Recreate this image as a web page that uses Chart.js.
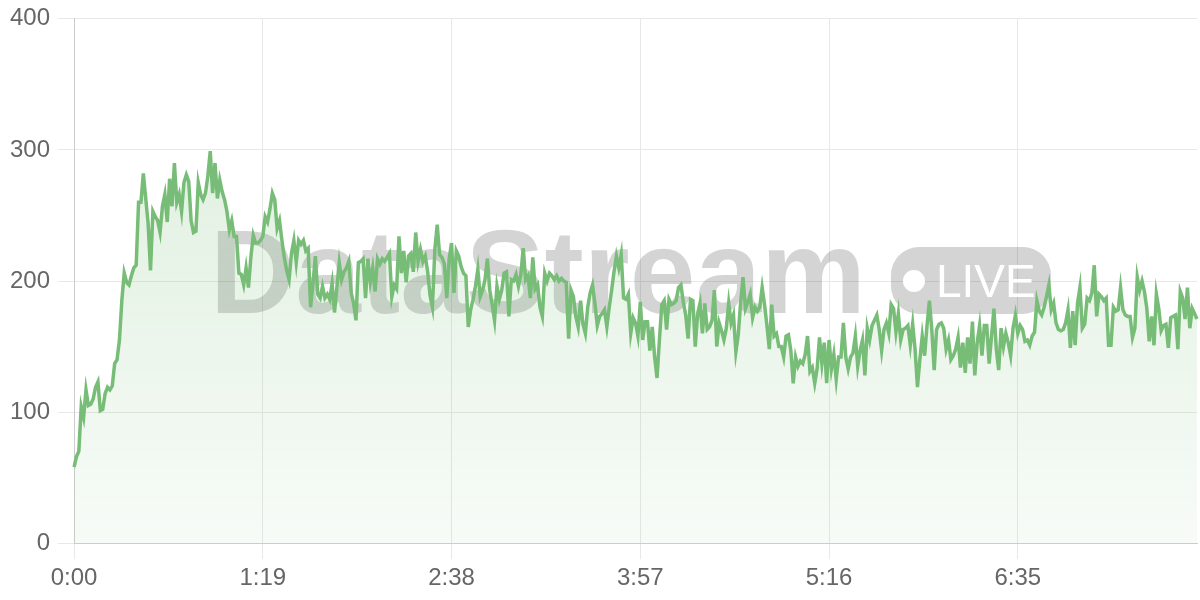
<!DOCTYPE html>
<html>
<head>
<meta charset="utf-8">
<title>DataStream LIVE</title>
<script src="https://cdn.jsdelivr.net/npm/chart.js@4.4.1/dist/chart.umd.min.js"></script>
<style>
html, body { margin: 0; padding: 0; background: #fff; }
#wrap { width: 1200px; height: 600px; }
</style>
</head>
<body>
<div id="wrap"><canvas id="streamChart"></canvas></div>
<script>
// one reading per second
const rampUp = [58,66,70,104,96,117,105,106,110,119,123,101,102,114,119,117,120,137,140,155,
  185,206,199,197,204,210,212,260,260,282,263,244,208,253,249,246,237,257,266,245,
  278,257,290,260,266,253,275,281,276,246,237,238,275,266,262,267,280,299,267,290,
  263,277,268,262,253,239,246,234,234,206,205,197,210,195,218,235,229,229,231,234];
const settle = [249,245,255,267,262,240,246,231,218,208,201,221,231,214,231,228,231,223,225,180,
  198,219,190,187,196,187,190,186,198,176,195,214,201];
const plateau = [207,210,215,191,183,170,214,215,217,187,217,199,210,192,217,213,217,215,218,221,
  188,197,194,234,206,223,199,219,221,207,237,215,224,215,219,207,189,180,224,243,
  220,218,213,187,217,229,191,223,219,211,206,204,165,178,186,196,209,188,193,201,
  217,193,182,170,196,186,193,206,207,173,201,200,205,196,205,225,201,204,187,218,
  194,197,180,173,206,200,206,204,201,204,200,202,200,199,156,193,188,173,165,185,
  167,160,180,191,197,183,166,173,175,178,165,180,193,207,219];
const dip = [210,220,187,186,190,160,172,168,158,184,155,169,169,147,165,142,126,155,182,185,
  163,186,182,183,185,195,197,184,174,156,186,185,150,175,183,160,183,163,165,170,
  193,150,168,162,155,164,183,168,174,146,159,184,203,179,184,190,172,180,177,180,
  195,182,166,148,182,158,160,150,150,142,158,159,147,122,142,135,139,137,144,158,
  131,134,122,133,157,137,153,122,155,133,144,125,142,142,168,142,133,142,145,158,
  135,147,155,128,164,155,166,170,174,163,147,163,168,160,182];
const recovery = [179,161,175,155,163,164,166,151,167,148,119,140,158,143,166,185,163,132,163,167,
  168,164,148,155,140,143,148,157,134,153,130,157,137,169,128,153,166,143,166,166,
  137,158,179,148,132,164,150,160,153,143,164,174,160,166,163,154,155,151,158,161,
  185,177,174,180,188,197,178,183,168,163,162,163,168,178,149,177,151,183,195,164,
  167,187,185,191,212,173,190,188,185,187,151,151,180,177,178,195,178,174,173,173,
  157,164,203,193,200,192,179,154,173,151,190,179,162,166,167,149,172,173,174,148,
  192,187,171,195,164,179,175,171];

const streamValues = [...rampUp, ...settle, ...plateau, ...dip, ...recovery];
const xTickEvery = 79;          // a label every 1:19
const yTicks = [0, 100, 200, 300, 400];

function fmtTime(sec) {
  const m = Math.floor(sec / 60);
  const s = sec % 60;
  return m + ':' + (s < 10 ? '0' : '') + s;
}
const timeLabels = streamValues.map((v, i) => fmtTime(i));

const lineGreen = '#77bd77';
const fontFamily = '"Liberation Sans", Arial, sans-serif';

// big grey "DataStream  (o LIVE)" mark behind the line
const watermark = {
  id: 'watermark',
  beforeDatasetsDraw(chart) {
    const { ctx, chartArea } = chart;
    const cx = (chartArea.left + chartArea.right) / 2 - 5;
    const cy = (chartArea.top + chartArea.bottom) / 2;
    ctx.save();
    ctx.font = 'bold 118px ' + fontFamily;
    const tw = ctx.measureText('DataStream').width;
    const pillW = 160, pillH = 67, gap = 25;
    const left = cx - (tw + gap + pillW) / 2;
    ctx.fillStyle = 'rgba(0,0,0,0.17)';
    ctx.textBaseline = 'alphabetic';
    ctx.fillText('DataStream', left, cy + 32);

    const px = left + tw + gap, py = cy - 34;
    ctx.beginPath();
    ctx.roundRect(px, py, pillW, pillH, 28);
    ctx.fill();
    ctx.fillStyle = '#fff';
    ctx.beginPath();
    ctx.arc(px + 23, py + 34, 11, 0, Math.PI * 2);
    ctx.fill();
    ctx.font = '46px ' + fontFamily;
    ctx.fillText('LIVE', px + 45, py + 50);
    ctx.restore();
  }
};

const chart = new Chart(document.getElementById('streamChart'), {
  type: 'line',
  data: {
    labels: timeLabels,
    datasets: [{
      data: streamValues,
      borderColor: lineGreen,
      borderWidth: 3.5,
      pointRadius: 0,
      tension: 0,
      fill: 'origin',
      backgroundColor: (c) => {
        const a = c.chart.chartArea;
        if (!a) return 'rgba(119,189,119,0.12)';
        const g = c.chart.ctx.createLinearGradient(0, a.top, 0, a.bottom);
        g.addColorStop(0, 'rgba(119,189,119,0.27)');
        g.addColorStop(1, 'rgba(119,189,119,0.06)');
        return g;
      }
    }]
  },
  options: {
    responsive: true,
    maintainAspectRatio: false,
    animation: false,
    layout: { padding: { left: 2, top: 0, right: 3, bottom: 2 } },
    plugins: { legend: { display: false }, tooltip: { enabled: false } },
    scales: {
      x: {
        type: 'category',
        afterBuildTicks: (axis) => {
          axis.ticks = axis.ticks.filter(t => t.value % xTickEvery === 0);
        },
        grid: { color: '#e8e8e8', tickLength: 16 },
        border: { color: '#cccccc' },
        ticks: {
          autoSkip: false, maxRotation: 0, padding: 5,
          color: '#666', font: { family: fontFamily, size: 24 }
        }
      },
      y: {
        min: yTicks[0],
        max: yTicks[yTicks.length - 1],
        afterBuildTicks: (axis) => { axis.ticks = yTicks.map(v => ({ value: v })); },
        grid: { color: '#e8e8e8', tickLength: 16 },
        border: { color: '#cccccc' },
        ticks: { padding: 8, color: '#666', font: { family: fontFamily, size: 24, lineHeight: 0.9 } }
      }
    }
  },
  plugins: [watermark]
});
</script>
</body>
</html>
